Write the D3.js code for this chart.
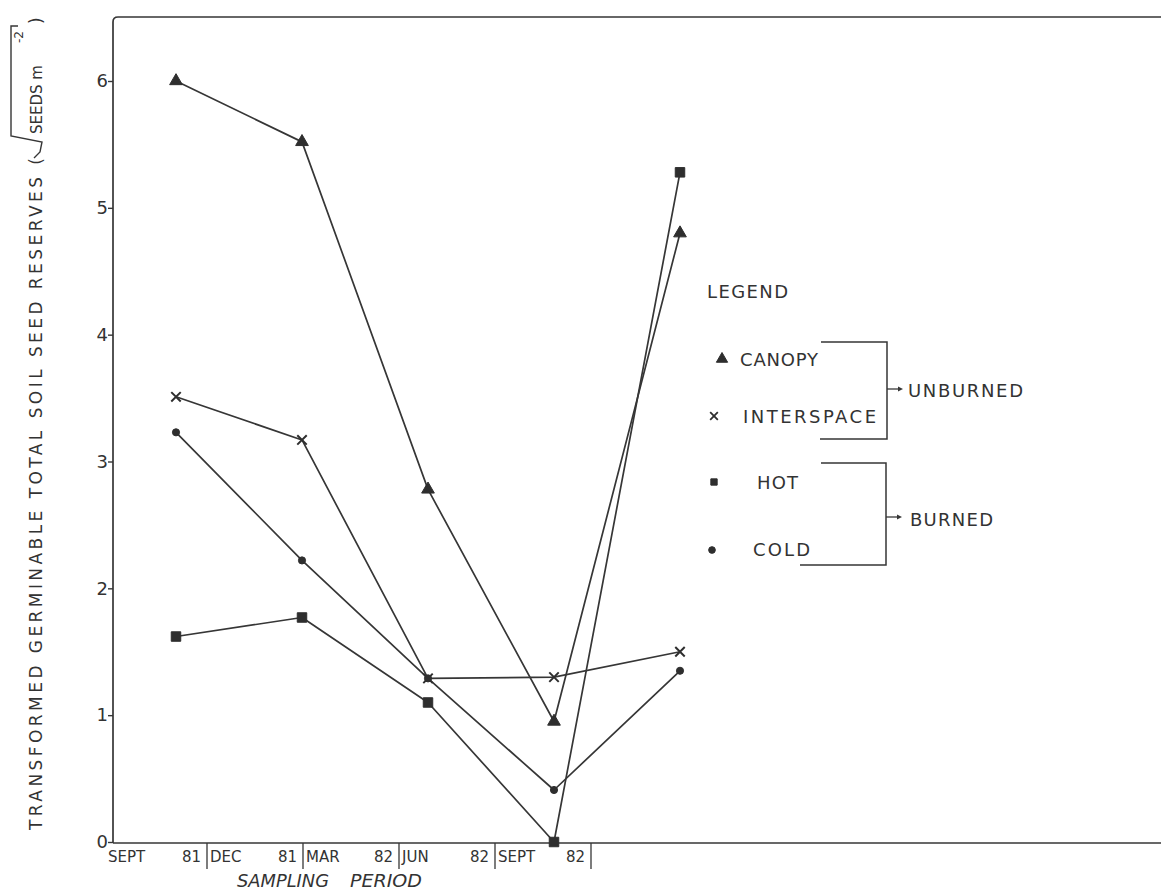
<!DOCTYPE html>
<html>
<head>
<meta charset="utf-8">
<script src="https://cdn.jsdelivr.net/npm/d3@7"></script>
<style>
  html, body { margin: 0; padding: 0; background: #ffffff; }
  svg { display: block; }
  text { font-family: "DejaVu Sans", "Liberation Sans", sans-serif; fill: #333; }
</style>
</head>
<body>
<svg id="chart" width="1161" height="893"></svg>
<script>
// Sampling dates and the four site treatments
const periods = ["SEPT 81", "DEC 81", "MAR 82", "JUN 82", "SEPT 82"];
const periodMonths = ["SEPT", "DEC", "MAR", "JUN", "SEPT"];
const periodYears = ["81", "81", "82", "82", "82"];

// Transformed germinable seed reserves (sqrt seeds per m^2)
const canopy = [6.0, 5.52, 2.78, 0.95, 4.80];
const interspace = [3.51, 3.17, 1.29, 1.30, 1.50];
const hot = [1.62, 1.77, 1.10, 0.0, 5.28];
const cold = [3.23, 2.22, 1.29, 0.41, 1.35];

const yTicks = [0, 1, 2, 3, 4, 5, 6];

const legendItems = ["CANOPY", "INTERSPACE", "HOT", "COLD"];
const groupLabels = ["UNBURNED", "BURNED"];

const ink = "#363636";
const svg = d3.select("#chart");

const frameLeft = 113, frameTop = 17, frameBottom = 843, frameRight = 1161;

const x = d3.scalePoint(periods, [176, 680]);
const y = d3.scaleLinear([0, 6], [842, 81]);
const band = d3.scaleBand(periods, [111, 591]).paddingInner(0).paddingOuter(0);

// Frame: left axis, rounded top corner, top rule, baseline
svg.append("path")
  .attr("d", `M${frameLeft},${frameBottom} L${frameLeft},${frameTop + 5} Q${frameLeft},${frameTop} ${frameLeft + 5},${frameTop} L${frameRight},${frameTop}`)
  .attr("fill", "none").attr("stroke", ink).attr("stroke-width", 1.7);
svg.append("line")
  .attr("x1", frameLeft).attr("x2", frameRight).attr("y1", frameBottom).attr("y2", frameBottom)
  .attr("stroke", ink).attr("stroke-width", 1.6);

// Y axis ticks
const yAxis = svg.append("g")
  .attr("transform", `translate(${frameLeft},0)`)
  .call(d3.axisLeft(y).tickValues(yTicks).tickSize(5).tickPadding(0).tickFormat(d3.format("d")));
yAxis.select(".domain").remove();
yAxis.selectAll(".tick line").attr("stroke", ink).attr("stroke-width", 1.4);
yAxis.selectAll(".tick text")
  .attr("font-size", 18).attr("fill", "#333")
  .style("font-family", "'DejaVu Sans', sans-serif");

// Sampling period strip under the axis
const strip = svg.append("g");
strip.selectAll("line.div").data(periods).join("line")
  .attr("class", "div")
  .attr("x1", d => band(d) + band.bandwidth())
  .attr("x2", d => band(d) + band.bandwidth())
  .attr("y1", frameBottom).attr("y2", 869)
  .attr("stroke", ink).attr("stroke-width", 1.3);
strip.selectAll("text.mon").data(periods).join("text")
  .attr("class", "mon")
  .attr("x", (d, i) => band(d) + (i === 0 ? -3 : 3))
  .attr("y", 862)
  .attr("font-size", 15)
  .text((d, i) => periodMonths[i]);
strip.selectAll("text.yr").data(periods).join("text")
  .attr("class", "yr")
  .attr("x", d => band(d) + band.bandwidth() - 6)
  .attr("y", 862)
  .attr("text-anchor", "end")
  .attr("font-size", 15)
  .text((d, i) => periodYears[i]);

svg.append("text").attr("x", 237).attr("y", 887)
  .attr("font-size", 18).attr("font-style", "italic")
  .attr("textLength", 92).attr("lengthAdjust", "spacingAndGlyphs")
  .text("SAMPLING");
svg.append("text").attr("x", 350).attr("y", 887)
  .attr("font-size", 18).attr("font-style", "italic")
  .attr("textLength", 72).attr("lengthAdjust", "spacingAndGlyphs")
  .text("PERIOD");

// Y axis title, written bottom to top
const yt = svg.append("g").attr("transform", "translate(42,830) rotate(-90)");
yt.append("text").attr("x", 0).attr("y", 0)
  .attr("font-size", 17)
  .attr("textLength", 672).attr("lengthAdjust", "spacing")
  .text("TRANSFORMED GERMINABLE TOTAL SOIL SEED RESERVES (");
yt.append("text").attr("x", 696).attr("y", 0)
  .attr("font-size", 15)
  .text("SEEDS m");
yt.append("text").attr("x", 787).attr("y", -19)
  .attr("font-size", 12)
  .text("-2");
yt.append("text").attr("x", 806).attr("y", 0)
  .attr("font-size", 17)
  .text(")");
// radical sign over SEEDS m^-2
yt.append("path")
  .attr("d", "M672,-8 L678,-2 L688,0 L694,-31 L804,-31 L804,-24")
  .attr("fill", "none").attr("stroke", ink).attr("stroke-width", 1.4);

// Series lines and markers
const line = d3.line().x((d, i) => x(periods[i])).y(d => y(d));
const series = [
  { name: "CANOPY", values: canopy, shape: d3.symbolTriangle, size: 70, fill: true },
  { name: "INTERSPACE", values: interspace, shape: d3.symbolTimes || d3.symbolX, size: 60, fill: false },
  { name: "HOT", values: hot, shape: d3.symbolSquare, size: 90, fill: true },
  { name: "COLD", values: cold, shape: d3.symbolCircle, size: 40, fill: true }
];

const plot = svg.append("g");
series.forEach(s => {
  plot.append("path")
    .datum(s.values)
    .attr("d", line)
    .attr("fill", "none")
    .attr("stroke", ink)
    .attr("stroke-width", 1.7)
    .attr("stroke-linejoin", "round");
});
series.forEach(s => {
  plot.selectAll(null).data(s.values).join("path")
    .attr("transform", (d, i) => `translate(${x(periods[i])},${y(d)})`)
    .attr("d", d3.symbol(s.shape, s.size))
    .attr("fill", s.fill ? "#2e2e2e" : "none")
    .attr("stroke", "#2e2e2e")
    .attr("stroke-width", s.fill ? 1 : 2);
});

// Legend
const lg = svg.append("g");
lg.append("text").attr("x", 707).attr("y", 298)
  .attr("font-size", 18).attr("textLength", 81).attr("lengthAdjust", "spacing")
  .text("LEGEND");

const legendPos = [
  { mx: 722, my: 359, tx: 740, ty: 366, len: 78, size: 55 },
  { mx: 714, my: 416, tx: 743, ty: 423, len: 133, size: 40 },
  { mx: 714, my: 482, tx: 757, ty: 489, len: 41, size: 40 },
  { mx: 712, my: 550, tx: 753, ty: 556, len: 57, size: 35 }
];
legendItems.forEach((name, i) => {
  const s = series[i], p = legendPos[i];
  lg.append("path")
    .attr("transform", `translate(${p.mx},${p.my})`)
    .attr("d", d3.symbol(s.shape, p.size))
    .attr("fill", s.fill ? "#2e2e2e" : "none")
    .attr("stroke", "#2e2e2e")
    .attr("stroke-width", s.fill ? 1 : 1.8);
  lg.append("text").attr("x", p.tx).attr("y", p.ty)
    .attr("font-size", 18).attr("textLength", p.len).attr("lengthAdjust", "spacing")
    .text(name);
});

// Group brackets with arrows
const brackets = [
  { x0: 821, x1: 820, xr: 887, yTop: 342, yBot: 439, yArr: 389, tx: 908, ty: 397, len: 115 },
  { x0: 821, x1: 800, xr: 886, yTop: 463, yBot: 565, yArr: 517, tx: 910, ty: 526, len: 83 }
];
brackets.forEach((b, i) => {
  lg.append("path")
    .attr("d", `M${b.x0},${b.yTop} L${b.xr},${b.yTop} L${b.xr},${b.yBot} L${b.x1},${b.yBot}`)
    .attr("fill", "none").attr("stroke", ink).attr("stroke-width", 1.5);
  lg.append("line")
    .attr("x1", b.xr).attr("x2", b.xr + 12).attr("y1", b.yArr).attr("y2", b.yArr)
    .attr("stroke", ink).attr("stroke-width", 1.3);
  lg.append("path")
    .attr("d", `M${b.xr + 16},${b.yArr} L${b.xr + 11},${b.yArr - 2.5} L${b.xr + 11},${b.yArr + 2.5} Z`)
    .attr("fill", ink);
  lg.append("text").attr("x", b.tx).attr("y", b.ty)
    .attr("font-size", 18).attr("textLength", b.len).attr("lengthAdjust", "spacing")
    .text(groupLabels[i]);
});
</script>
</body>
</html>
